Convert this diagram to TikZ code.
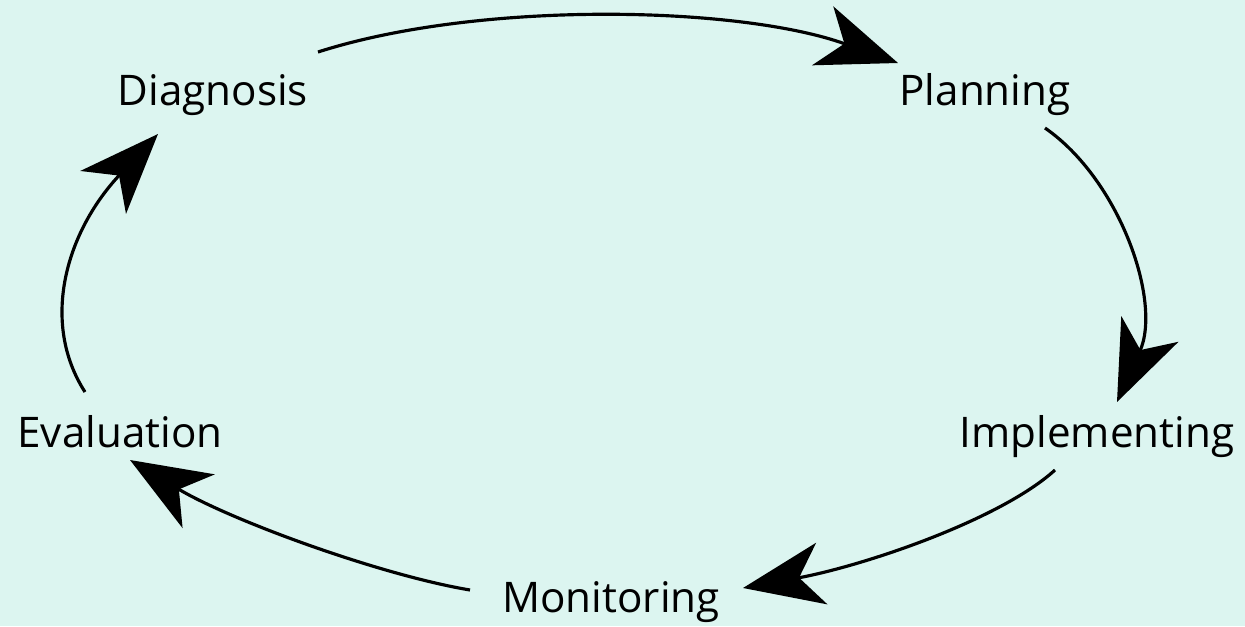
\documentclass[tikz,border=0pt]{standalone}
\usepackage{fontspec}
\setmainfont{Open Sans}
\usetikzlibrary{arrows.meta}
\definecolor{bgmint}{RGB}{220,245,240}

\begin{document}
\begin{tikzpicture}
		[x=0.02cm, y=-0.02cm,
		every node/.style={anchor=base,inner sep=2pt,font=\fontsize{24}{28}\selectfont},
		cyc/.style={line width=1.8pt,-{Stealth[length=1.6cm,width=1.25cm,inset=0.46cm]}}]
		\fill [bgmint] (0,0) rectangle (1245,626);
		\useasboundingbox (0,0) rectangle (1245,626);
		\node (dia) at (213,105) {Diagnosis};
		\node (pla) at (985,105) {Planning};
		\node (imp) at (1097,447) {Implementing};
		\node (mon) at (611,612) {Monitoring};
		\node (eva) at (120,447) {Evaluation};
		\draw [cyc] ([shift={(105,-53)}]dia.base) .. controls +(162,-52) and +(-158,-57) .. ([shift={(-87,-42)}]pla.base);
		\draw [cyc] ([shift={(60,23)}]pla.base) .. controls +(75,52) and +(45,-100) .. ([shift={(20,-45)}]imp.base);
		\draw [cyc] ([shift={(-42,23)}]imp.base) .. controls +(-55,50) and +(120,-22) .. ([shift={(132,-24)}]mon.base);
		\draw [cyc] ([shift={(-141,-22)}]mon.base) .. controls +(-90,-15) and +(100,60) .. ([shift={(10,13)}]eva.base);
		\draw [cyc] ([shift={(-35,-55)}]eva.base) .. controls +(-45,-70) and +(-92,98) .. ([shift={(-55,29)}]dia.base);
	\end{tikzpicture}
\end{document}
